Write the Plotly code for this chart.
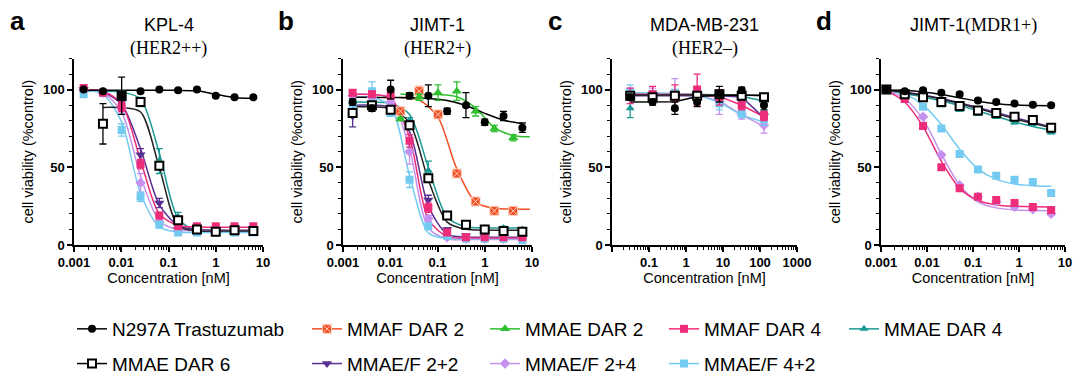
import math
import plotly.graph_objects as go

# ---------------- concentrations (nM) ----------------
CONC_AB = [0.0016, 0.0041, 0.0102, 0.0256, 0.064, 0.16, 0.4, 1.0, 2.5, 6.25]
CONC_B_DAR2 = [0.0164, 0.041, 0.1024, 0.256, 0.64, 1.6, 4.0]
CONC_B_DAR2_FIT = [0.0164, 0.041, 0.1024, 0.256, 0.64, 1.6, 4.0, 9.0]
CONC_C = [0.031, 0.125, 0.5, 2, 8, 32, 128]
CONC_D = [0.00131, 0.00328, 0.0082, 0.0205, 0.0512, 0.128, 0.32, 0.8, 2.0, 5.0]

SERIES = ["N297A Trastuzumab", "MMAF DAR 2", "MMAE DAR 2", "MMAF DAR 4", "MMAE DAR 4",
          "MMAE DAR 6", "MMAE/F 2+2", "MMAE/F 2+4", "MMAE/F 4+2"]

# ---------------- panel a : KPL-4 ----------------
A_MEAN = {
    "N297A Trastuzumab": [100, 99, 96, 99, 100, 99.5, 100, 96, 95, 95],
    "MMAE DAR 4": [100, 99, 97, 92, 54, 18, 9, 8, 8, 8],
    "MMAF DAR 4": [101, 98, 89, 52, 19, 12, 12, 12, 12, 12],
    "MMAE/F 2+2": [100, 98, 92, 58, 27, 10, 10, 9, 9, 9],
    "MMAE/F 2+4": [100, 98, 88, 40, 15, 9, 9, 9, 9, 9],
    "MMAE/F 4+2": [97, 98, 74, 31, 13, 8, 8, 8, 8, 8],
    "MMAE DAR 6": [None, 78, 96, 92, 51, 16, 10, 8.5, 9.5, 9],
}
A_ERR = {
    "N297A Trastuzumab": [1, 1, 2, 1, 1, 1, 1, 1, 1, 1],
    "MMAE DAR 4": [1, 1, 2, 3, 8, 3, 1, 1, 1, 1],
    "MMAF DAR 4": [1, 1, 3, 3, 2, 1, 1, 1, 1, 1],
    "MMAE/F 2+2": [1, 1, 2, 4, 3, 1, 1, 1, 1, 1],
    "MMAE/F 2+4": [1, 1, 3, 6, 2, 1, 1, 1, 1, 1],
    "MMAE/F 4+2": [1, 1, 4, 3, 2, 1, 1, 1, 1, 1],
    "MMAE DAR 6": [0, 13, 12, 2, 2, 2, 1, 1, 1, 1],
}
A_FIT = {
    "N297A Trastuzumab": [99.5, 99.5, 99.5, 99.5, 99.5, 99.5, 99.2, 97, 94.8, 94.5],
    "MMAE DAR 4": [99, 99, 98.5, 94, 59, 17, 9, 8.5, 8.5, 8.5],
    "MMAF DAR 4": [100, 98.9, 90.8, 54.5, 19.9, 12.5, 11.6, 11.5, 11.5, 11.5],
    "MMAE/F 2+2": [99.8, 98.3, 90.6, 61.9, 25.8, 12.6, 10, 9.6, 9.5, 9.5],
    "MMAE/F 2+4": [99.6, 97.9, 85.5, 44.3, 15.5, 9.8, 9.1, 9, 9, 9],
    "MMAE/F 4+2": [99.7, 97, 79.2, 33.1, 11.7, 8.3, 8, 8, 8, 8],
    "MMAE DAR 6": [None, 88.5, 88.3, 85.6, 49.8, 12.3, 9.1, 9, 9, 9],
}

# ---------------- panel b : JIMT-1 ----------------
B_MEAN = {
    "MMAF DAR 2": [86, 99, 84, 46, 28, 22, 22],
    "MMAE DAR 2": [81, 95, 98, 99, 86, 75, 69],
    "MMAE DAR 4": [92, 90, 88, 80, 48, 19, 12, 11, 11, 10],
    "MMAF DAR 4": [98, 97, 96, 67, 24, 8, 5, 5, 5, 5],
    "MMAE/F 2+2": [83, 88, 87, 78, 29, 10, 6, 5, 5, 5],
    "MMAE/F 2+4": [96, 95, 92, 60, 17, 5, 4, 4, 4, 4],
    "MMAE/F 4+2": [91, 99, 85, 42, 12, 6, 4, 4, 4, 3],
    "MMAE DAR 6": [85, 90, 87, 77, 43, 19, 13, 10, 9, 8.5],
    "N297A Trastuzumab": [92, 88, 100, 96, 96, 86, 90, 79, 83, 75.5],
}
B_ERR = {
    "MMAF DAR 2": [1, 3, 2, 2, 2, 1, 1],
    "MMAE DAR 2": [1, 2, 5, 6, 3, 2, 2],
    "MMAE DAR 4": [2, 3, 2, 2, 6, 2, 1, 1, 1, 1],
    "MMAF DAR 4": [2, 2, 2, 4, 3, 1, 1, 1, 1, 1],
    "MMAE/F 2+2": [7, 2, 2, 2, 3, 1, 1, 1, 1, 1],
    "MMAE/F 2+4": [2, 2, 2, 8, 2, 1, 1, 1, 1, 1],
    "MMAE/F 4+2": [2, 6, 2, 5, 2, 1, 1, 1, 1, 1],
    "MMAE DAR 6": [2, 2, 2, 2, 2, 1, 1, 1, 1, 1],
    "N297A Trastuzumab": [2, 2, 6, 2, 7, 2, 8, 2, 3, 3],
}
B_FIT = {
    "MMAF DAR 2": [94.9, 93.2, 82.3, 49, 27.6, 23.6, 23.1, 23],
    "MMAE DAR 2": [97, 97, 96.8, 95.4, 88.2, 75.5, 70.5, 69.6],
    "MMAE DAR 4": [92, 91.9, 91.1, 84, 49.9, 17.9, 11.8, 11.1, 11, 11],
    "MMAF DAR 4": [97, 96.8, 94.6, 69.3, 16.6, 5.4, 4.6, 4.5, 4.5, 4.5],
    "MMAE/F 2+2": [90, 90, 88.4, 73, 25, 7, 5.1, 5, 5, 5],
    "MMAE/F 2+4": [97, 96.9, 94.1, 61.9, 11.1, 3.9, 3.5, 3.5, 3.5, 3.5],
    "MMAE/F 4+2": [95, 94.7, 89.5, 44.8, 7.8, 4.2, 4, 4, 4, 4],
    "MMAE DAR 6": [89, 88.9, 87.8, 78.7, 41.8, 14.7, 10.1, 9.6, 9.5, 9.5],
    "N297A Trastuzumab": [95, 95, 94.9, 94.8, 94.3, 93, 89.8, 84.7, 80.3, 78.2],
}

# ---------------- panel c : MDA-MB-231 ----------------
C_MEAN = {
    "MMAE DAR 4": [88, 97, 98, 96, 96, 95, 93],
    "MMAE DAR 6": [96, 95, 96, 96, 97, 96, 95],
    "MMAE/F 2+2": [96, 96, 97, 97, 96, 94, 83],
    "MMAE/F 2+4": [97, 97, 97, 96, 92, 84, 77],
    "MMAE/F 4+2": [98, 97, 98, 96, 91, 85, 81],
    "MMAF DAR 4": [96, 97, 95, 100, 95, 90, 83],
    "N297A Trastuzumab": [95, 92, 88, 92, 97, 99.5, 90],
}
C_ERR = {
    "MMAE DAR 4": [6, 2, 2, 2, 2, 2, 2],
    "MMAE DAR 6": [2, 2, 2, 2, 2, 2, 2],
    "MMAE/F 2+2": [2, 2, 2, 2, 2, 2, 3],
    "MMAE/F 2+4": [4, 4, 10, 3, 8, 3, 5],
    "MMAE/F 4+2": [5, 2, 2, 2, 4, 3, 4],
    "MMAF DAR 4": [5, 5, 8, 10, 5, 3, 3],
    "N297A Trastuzumab": [2, 2, 4, 3, 5, 2, 3],
}
C_FIT = {
    "MMAE DAR 4": [97, 97, 97, 97, 96.5, 95.5, 92.6],
    "MMAE DAR 6": [96.5, 96.5, 96.5, 96.5, 96.5, 96.5, 96],
    "MMAE/F 2+2": [96, 96, 96, 96, 96, 95.3, 81.8],
    "MMAE/F 2+4": [97, 97, 96.8, 96.3, 92.7, 83.7, 76.4],
    "MMAE/F 4+2": [98, 98, 97.6, 96.6, 91.9, 83.4, 79.2],
    "MMAF DAR 4": [97, 97, 97, 96.8, 95.6, 89.9, 82.5],
    "N297A Trastuzumab": [92, 92, 92.2, 95.5, 96.3, 96.3, 96.3],
}

# ---------------- panel d : JIMT-1 (MDR1+) ----------------
D_MEAN = {
    "MMAE DAR 4": [100, 96, 94, 90, 87, 84.5, 82.5, 79, 78, 72.5],
    "MMAE/F 2+2": [100, 97, 95, 92, 90, 87, 85, 83, 81, 76],
    "MMAE DAR 6": [100, 97, 95, 92, 89.5, 86.5, 85, 82.5, 80.5, 75.5],
    "MMAE/F 4+2": [100, 95, 89, 75, 58.5, 48.5, 44.5, 42, 40.5, 33.5],
    "MMAE/F 2+4": [100, 95, 82.5, 58, 38.5, 31, 28, 24.5, 23, 20],
    "MMAF DAR 4": [100, 94, 76.5, 50, 36.5, 31, 29, 27, 24.5, 22.5],
    "N297A Trastuzumab": [100, 99, 99.5, 98, 97, 93, 92, 91, 90.3, 90],
}
D_ERR = {
    "MMAE DAR 4": [1, 1, 1, 1, 1, 1, 1, 1, 1, 1],
    "MMAE/F 2+2": [1, 1, 1, 1, 1, 1, 1, 1, 1, 1],
    "MMAE DAR 6": [1, 1, 1, 1, 1, 1, 1, 1, 1, 1],
    "MMAE/F 4+2": [1, 1, 1, 1, 1, 1, 1, 1, 1, 1],
    "MMAE/F 2+4": [1, 1, 1, 1, 1, 1, 1, 1, 1, 1],
    "MMAF DAR 4": [1, 1, 1, 1, 1, 1, 1, 1, 1, 1],
    "N297A Trastuzumab": [1, 1, 1, 1, 1, 1, 1, 1, 1, 1],
}
D_FIT = {
    "MMAE DAR 4": [99.5, 97.3, 95.3, 92.8, 89.7, 86.3, 82.7, 79.2, 76.2, 73.7],
    "MMAE/F 2+2": [99.8, 98.3, 96.6, 94.3, 91.6, 88.5, 85.3, 82, 79, 76],
    "MMAE DAR 6": [99.7, 98, 96.2, 93.8, 91, 87.8, 84.5, 81.2, 78.3, 75.5],
    "MMAE/F 4+2": [99.8, 97.1, 90.2, 77.5, 61.6, 49, 42.2, 39.3, 38.2, 37.8],
    "MMAE/F 2+4": [99.5, 94.1, 80.8, 58.6, 38.4, 27.8, 23.9, 22.6, 22.2, 22],
    "MMAF DAR 4": [99.5, 92, 76.2, 53.9, 36.6, 28.6, 25.8, 24.9, 24.6, 24.5],
    "N297A Trastuzumab": [99.7, 99.4, 98.5, 96.9, 94.7, 92.5, 90.9, 90.1, 89.8, 89.6],
}

# ---------------- styles ----------------
COLORS = {
    "N297A Trastuzumab": "#000000",
    "MMAF DAR 2": "#f04e23",
    "MMAE DAR 2": "#2fbf2f",
    "MMAF DAR 4": "#ee2d7a",
    "MMAE DAR 4": "#1c9995",
    "MMAE DAR 6": "#000000",
    "MMAE/F 2+2": "#5a2e91",
    "MMAE/F 2+4": "#c590ee",
    "MMAE/F 4+2": "#74cbf2",
}
SYMBOLS = {
    "N297A Trastuzumab": ("circle", 8),
    "MMAF DAR 2": ("square-x", 8),
    "MMAE DAR 2": ("triangle-up", 9),
    "MMAF DAR 4": ("square", 8),
    "MMAE DAR 4": ("triangle-up", 8),
    "MMAE DAR 6": ("square", 8),
    "MMAE/F 2+2": ("triangle-down", 9),
    "MMAE/F 2+4": ("diamond", 8),
    "MMAE/F 4+2": ("square", 8),
}
DRAW_ORDER = ["MMAF DAR 2", "MMAE DAR 2", "MMAE DAR 4", "MMAE/F 2+2", "MMAE/F 2+4",
              "MMAE/F 4+2", "MMAF DAR 4", "MMAE DAR 6", "N297A Trastuzumab"]
LEGEND_COL = {
    "N297A Trastuzumab": "legend", "MMAE DAR 6": "legend",
    "MMAF DAR 2": "legend2", "MMAE/F 2+2": "legend2",
    "MMAE DAR 2": "legend3", "MMAE/F 2+4": "legend3",
    "MMAF DAR 4": "legend4", "MMAE/F 4+2": "legend4",
    "MMAE DAR 4": "legend5",
}

SANS = "Liberation Sans, Arial, sans-serif"
SERIF = "Liberation Serif, Times New Roman, serif"

W, H = 1080, 379
X_PX = [(74, 263), (343, 532), (612, 797), (881, 1065)]
Y_PX = (58.5, 245)


def marker_style(name):
    sym, size = SYMBOLS[name]
    col = COLORS[name]
    if name == "MMAE DAR 6":
        return dict(symbol=sym, size=size, color="white", line=dict(color="black", width=2))
    if name == "MMAF DAR 2":
        return dict(symbol=sym, size=size + 1, color=col, line=dict(color="#ffd2c2", width=1))
    return dict(symbol=sym, size=size, color=col, line=dict(width=0))


panels = [
    dict(letter="a", t1="KPL-4", t2="(HER2++)", mean=A_MEAN, err=A_ERR, fit=A_FIT,
         x=CONC_AB, shape="spline", rng=[-3, 1]),
    dict(letter="b", t1="JIMT-1", t2="(HER2+)", mean=B_MEAN, err=B_ERR, fit=B_FIT,
         x=CONC_AB, shape="spline", rng=[-3, 1]),
    dict(letter="c", t1="MDA-MB-231", t2="(HER2–)", mean=C_MEAN, err=C_ERR, fit=C_FIT,
         x=CONC_C, shape="linear", rng=[-2, 3]),
    dict(letter="d", t1="JIMT-1", t2=None, mean=D_MEAN, err=D_ERR, fit=D_FIT,
         x=CONC_D, shape="spline", rng=[-3, 1]),
]

fig = go.Figure()
annotations = []
layout_axes = {}

for i, p in enumerate(panels):
    n = "" if i == 0 else str(i + 1)
    xa, ya = "x" + n, "y" + n
    present = [s for s in DRAW_ORDER if s in p["mean"]]
    # fitted curves
    for s in present:
        xs = p["x"]
        if p["letter"] == "b" and s in ("MMAF DAR 2", "MMAE DAR 2"):
            xs = CONC_B_DAR2_FIT
        lc = "#222222" if s == "MMAE DAR 6" else COLORS[s]
        fig.add_trace(go.Scatter(
            x=xs, y=p["fit"][s], mode="lines", xaxis=xa, yaxis=ya, showlegend=False,
            line=dict(color=lc, width=1.5, shape=p["shape"], smoothing=0.8),
            hoverinfo="skip"))
    # data points with error bars
    for s in present:
        xs = p["x"]
        if p["letter"] == "b" and s in ("MMAF DAR 2", "MMAE DAR 2"):
            xs = CONC_B_DAR2
        fig.add_trace(go.Scatter(
            x=xs, y=p["mean"][s], mode="markers", xaxis=xa, yaxis=ya, showlegend=False,
            marker=marker_style(s),
            error_y=dict(type="data", array=p["err"][s], color=COLORS[s],
                         thickness=1.3, width=3.5)))

    x0, x1 = X_PX[i]
    dom_x = [x0 / W, x1 / W]
    dom_y = [1 - Y_PX[1] / H, 1 - Y_PX[0] / H]
    lo, hi = p["rng"]
    majors = [10.0 ** k for k in range(lo, hi + 1)]
    labels = [("%g" % v) if v >= 1 else ("%.*f" % (-int(round(math.log10(v))), v)) for v in majors]
    if p["letter"] == "c":
        labels[0] = ""
    minors = [m * 10.0 ** k for k in range(lo, hi) for m in range(2, 10)]
    layout_axes["xaxis" + n] = dict(
        type="log", range=[lo, hi], domain=dom_x, anchor=ya, automargin=False,
        tickmode="array", tickvals=majors, ticktext=labels,
        ticks="outside", ticklen=5, tickwidth=1.5, tickcolor="black",
        minor=dict(tickmode="array", tickvals=minors, ticks="outside", ticklen=3,
                   tickwidth=1, tickcolor="black"),
        showline=True, linecolor="black", linewidth=1.5, showgrid=False, zeroline=False,
        tickfont=dict(family=SANS, size=13, color="black", weight="bold"),
        title=dict(text="Concentration [nM]", font=dict(family=SANS, size=14.5, color="black"),
                   standoff=0),
    )
    layout_axes["yaxis" + n] = dict(
        range=[0, 120], domain=dom_y, anchor=xa, automargin=False,
        tickmode="array", tickvals=[0, 50, 100], ticktext=["0", "50", "100"],
        ticks="outside", ticklen=5, tickwidth=1.5, tickcolor="black",
        minor=dict(tickmode="array", tickvals=[10, 20, 30, 40, 60, 70, 80, 90, 110, 120],
                   ticks="outside", ticklen=3, tickwidth=1, tickcolor="black"),
        showline=True, linecolor="black", linewidth=1.5, showgrid=False, zeroline=False,
        tickfont=dict(family=SANS, size=13, color="black", weight="bold"),
        title=dict(text="cell viability (%control)", font=dict(family=SANS, size=14.5, color="black"),
                   standoff=6),
    )
    cx = (x0 + x1) / 2 / W
    annotations.append(dict(text="<b>%s</b>" % p["letter"], x=(x0 - 57) / W, y=1 - 21 / H,
                            xref="paper", yref="paper", showarrow=False,
                            xanchor="center", yanchor="middle",
                            font=dict(family=SANS, size=26, color="black")))
    if p["t2"] is not None:
        annotations.append(dict(text=p["t1"], x=cx, y=1 - 25 / H, xref="paper", yref="paper",
                                showarrow=False, xanchor="center", yanchor="middle",
                                font=dict(family=SANS, size=18, color="black")))
        annotations.append(dict(text=p["t2"], x=cx, y=1 - 49 / H, xref="paper", yref="paper",
                                showarrow=False, xanchor="center", yanchor="middle",
                                font=dict(family=SERIF, size=18, color="black")))
    else:
        annotations.append(dict(
            text=p["t1"] + "<span style='font-family:Liberation Serif'>(MDR1+)</span>",
            x=cx, y=1 - 25 / H, xref="paper", yref="paper", showarrow=False,
            xanchor="center", yanchor="middle", font=dict(family=SANS, size=18, color="black")))

# legend entries
for s in SERIES:
    lc = COLORS[s]
    fig.add_trace(go.Scatter(
        x=[None], y=[None], mode="lines+markers", name=s, legend=LEGEND_COL[s],
        legendgroup=s, marker=marker_style(s), line=dict(color=lc, width=1.5)))

LEG_X_PX = [72, 307, 485, 664, 844]
legend_common = dict(yanchor="top", xanchor="left", orientation="v",
                     font=dict(family=SANS, size=19, color="black"),
                     bgcolor="rgba(0,0,0,0)", tracegroupgap=7, itemwidth=30,
                     traceorder="grouped")
legends = {}
for j, lx in enumerate(LEG_X_PX):
    key = "legend" if j == 0 else "legend%d" % (j + 1)
    legends[key] = dict(x=lx / W, y=1 - 310 / H, **legend_common)

fig.update_layout(
    width=W, height=H, margin=dict(l=0, r=0, t=0, b=0, autoexpand=False),
    paper_bgcolor="white", plot_bgcolor="white",
    annotations=annotations, **layout_axes, **legends,
)

fig.write_html(
    "out.html",
    config={"displayModeBar": False},
    post_script="document.body.style.margin='0';document.body.style.overflow='hidden';",
)
